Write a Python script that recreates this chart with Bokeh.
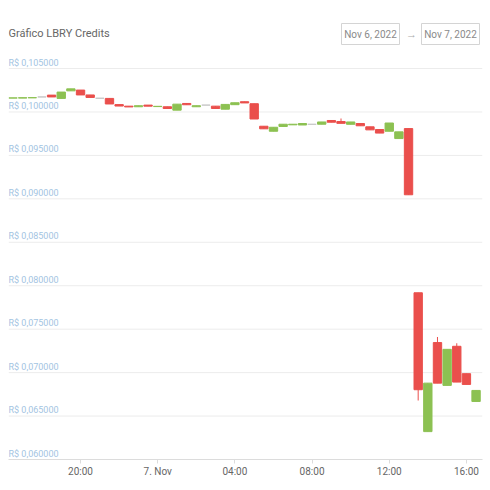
import pandas as pd
from bokeh.plotting import figure
from bokeh.models import ColumnDataSource, FixedTicker, Span, Label, BoxAnnotation
from bokeh.embed import file_html
from bokeh.resources import INLINE

# ---- data (30-minute candles, Nov 6 16:30 -> Nov 7 16:30) ----
start_time = "2022-11-06 16:30"
opens = [0.10160, 0.10160, 0.10163, 0.10173, 0.10194, 0.10156, 0.10243, 0.10252, 0.10196, 0.10158,
         0.10156, 0.10085, 0.10067, 0.10060, 0.10079, 0.10062, 0.10060, 0.10021, 0.10098, 0.10060,
         0.10079, 0.10067, 0.10032, 0.10084, 0.10118, 0.10095, 0.09836, 0.09778, 0.09833, 0.09852,
         0.09850, 0.09858, 0.09859, 0.09902, 0.09890, 0.09858, 0.09867, 0.09829, 0.09798, 0.09778,
         0.09694, 0.09809, 0.07919, 0.06321, 0.07346, 0.06853, 0.07303, 0.06988, 0.06668]
closes = [0.10162, 0.10164, 0.10165, 0.10173, 0.10173, 0.10229, 0.10266, 0.10196, 0.10167, 0.10158,
          0.10092, 0.10068, 0.10058, 0.10072, 0.10067, 0.10065, 0.10040, 0.10090, 0.10083, 0.10072,
          0.10079, 0.10040, 0.10087, 0.10106, 0.10104, 0.09919, 0.09806, 0.09824, 0.09859, 0.09859,
          0.09867, 0.09858, 0.09885, 0.09882, 0.09869, 0.09885, 0.09841, 0.09794, 0.09757, 0.09873,
          0.09771, 0.09047, 0.06803, 0.06879, 0.06879, 0.07268, 0.06891, 0.06864, 0.06795]
highs = [0.10162, 0.10164, 0.10165, 0.10173, 0.10194, 0.10229, 0.10266, 0.10252, 0.10196, 0.10158,
         0.10156, 0.10085, 0.10067, 0.10072, 0.10079, 0.10065, 0.10060, 0.10090, 0.10098, 0.10072,
         0.10079, 0.10067, 0.10087, 0.10106, 0.10118, 0.10095, 0.09836, 0.09824, 0.09859, 0.09859,
         0.09867, 0.09858, 0.09885, 0.09902, 0.09925, 0.09885, 0.09867, 0.09829, 0.09798, 0.09873,
         0.09771, 0.09809, 0.07919, 0.06879, 0.07410, 0.07268, 0.07338, 0.06988, 0.06795]
lows = [0.10160, 0.10160, 0.10163, 0.10173, 0.10173, 0.10156, 0.10243, 0.10196, 0.10167, 0.10158,
        0.10092, 0.10068, 0.10058, 0.10060, 0.10067, 0.10062, 0.10040, 0.10021, 0.10083, 0.10060,
        0.10079, 0.10040, 0.10032, 0.10084, 0.10104, 0.09919, 0.09806, 0.09778, 0.09833, 0.09852,
        0.09850, 0.09858, 0.09859, 0.09882, 0.09869, 0.09858, 0.09841, 0.09794, 0.09757, 0.09778,
        0.09694, 0.09047, 0.06679, 0.06321, 0.06879, 0.06853, 0.06891, 0.06864, 0.06668]

y_ticks = [0.060, 0.065, 0.070, 0.075, 0.080, 0.085, 0.090, 0.095, 0.100, 0.105]
y_tick_labels = ["R$ 0,060000", "R$ 0,065000", "R$ 0,070000", "R$ 0,075000", "R$ 0,080000",
                 "R$ 0,085000", "R$ 0,090000", "R$ 0,095000", "R$ 0,100000", "R$ 0,105000"]
x_ticks = ["2022-11-06 20:00", "2022-11-07 00:00", "2022-11-07 04:00",
           "2022-11-07 08:00", "2022-11-07 12:00", "2022-11-07 16:00"]
x_tick_labels = ["20:00", "7. Nov", "04:00", "08:00", "12:00", "16:00"]
title_text = "Gráfico LBRY Credits"
date_from = "Nov 6, 2022"
date_to = "Nov 7, 2022"

UP = "#8cc152"
DOWN = "#ea4f4c"
FLAT = "#c8c8c8"

times = pd.date_range(start_time, periods=len(opens), freq="30min")
colors = [UP if c > o else (DOWN if c < o else FLAT) for o, c in zip(opens, closes)]
src = ColumnDataSource(dict(
    t=times, o=opens, c=closes, h=highs, l=lows,
    top=[max(o, c) for o, c in zip(opens, closes)],
    bot=[min(o, c) for o, c in zip(opens, closes)],
    color=colors,
))

def ms(s):
    return pd.Timestamp(s).value / 1e6

# frame spans from the very top of the page (room for title) down to the 0.06 gridline
p = figure(width=490, height=490, x_axis_type="datetime", y_axis_location=None,
           x_range=(pd.Timestamp("2022-11-06 16:16"), pd.Timestamp("2022-11-07 16:50")),
           y_range=(0.060, 0.11283),
           output_backend="svg", toolbar_location=None,
           min_border_left=8, min_border_right=8, min_border_top=0, min_border_bottom=31)
p.outline_line_color = None
p.xgrid.visible = False
p.ygrid.visible = False
for v in y_ticks:
    p.add_layout(Span(location=v, dimension="width", line_color="#ececec",
                      line_width=1, level="underlay"))

xa = p.xaxis[0]
xa.ticker = FixedTicker(ticks=[ms(s) for s in x_ticks])
xa.major_label_overrides = {ms(s): lab for s, lab in zip(x_ticks, x_tick_labels)}
xa.axis_line_color = "#dcdcdc"
xa.major_tick_line_color = "#dcdcdc"
xa.major_tick_out = 4
xa.major_tick_in = 0
xa.minor_tick_line_color = None
xa.major_label_text_color = "#666666"
xa.major_label_text_font = "Roboto"
xa.major_label_text_font_size = "10px"
xa.major_label_standoff = 2

width_ms = 26 * 60 * 1000
p.segment("t", "h", "t", "l", source=src, line_color="color", line_width=1)
p.vbar(x="t", width=width_ms, top="top", bottom="bot", source=src,
       fill_color="color", line_color="color", line_width=1)

for v, lab in zip(y_ticks, y_tick_labels):
    p.add_layout(Label(x=0, x_units="screen", y=v, y_units="data", y_offset=1,
                       text=lab, text_font="Roboto", text_font_size="9px",
                       text_color="#a3c4e2", text_baseline="bottom", text_align="left"))

p.add_layout(Label(x=0, x_units="screen", y=426, y_units="screen", text=title_text,
                   text_font="Roboto", text_font_size="11px", text_color="#666666",
                   text_baseline="middle", text_align="left"))
for left, t in [(333, date_from), (413, date_to)]:
    p.add_layout(BoxAnnotation(left=left, right=left + 58, top=436, bottom=415,
                               left_units="screen", right_units="screen",
                               top_units="screen", bottom_units="screen",
                               fill_color=None, fill_alpha=0,
                               line_color="#d4d4d4", line_width=1, line_alpha=1))
    p.add_layout(Label(x=left + 29, x_units="screen", y=425.5, y_units="screen", text=t,
                       text_font="Roboto", text_font_size="10px", text_color="#8a8a8a",
                       text_baseline="middle", text_align="center"))
p.add_layout(Label(x=403, x_units="screen", y=425.5, y_units="screen", text="→",
                   text_font="Roboto", text_font_size="11px", text_color="#aaaaaa",
                   text_baseline="middle", text_align="center"))

open("out.html", "w").write(file_html(p, INLINE))
